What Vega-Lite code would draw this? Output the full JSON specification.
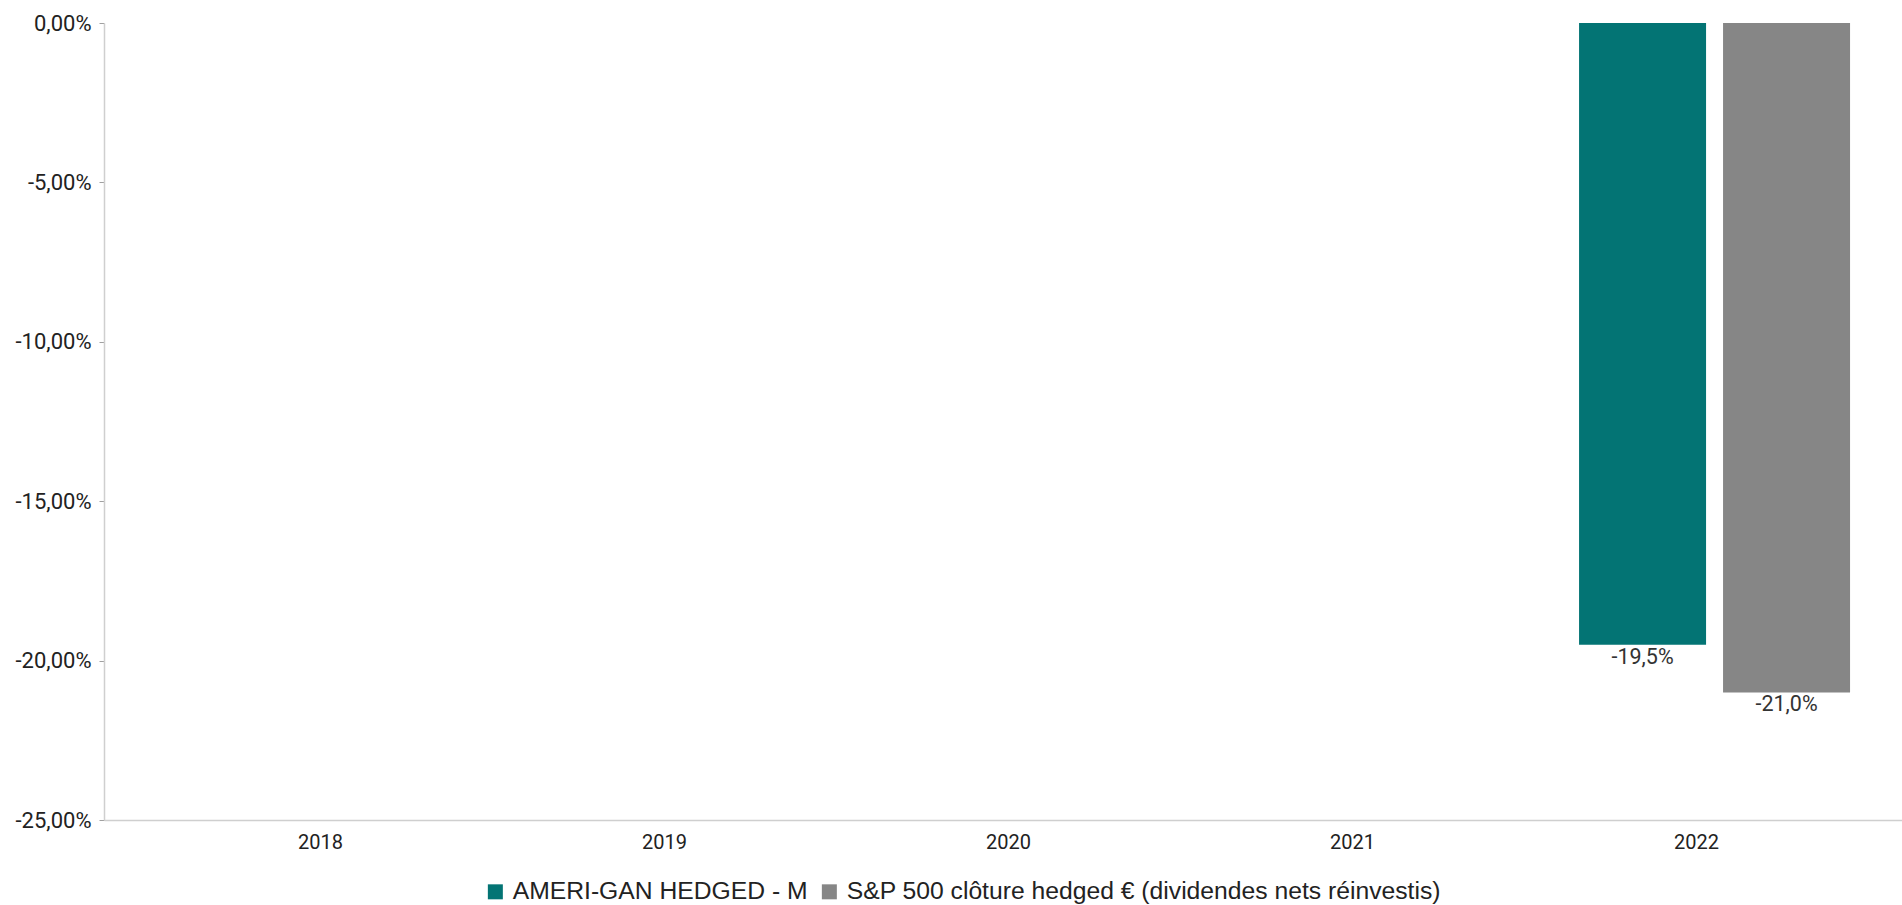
{
  "$schema": "https://vega.github.io/schema/vega-lite/v6.json",
  "autosize": {"type": "none"},
  "width": 1798,
  "height": 797,
  "padding": {"left": 104, "top": 23, "right": 0, "bottom": 85},
  "background": "white",
  "config": {
    "view": {"stroke": null},
    "locale": {"number": {"decimal": ",", "thousands": " ", "grouping": [3], "currency": ["", " €"], "minus": "-"}},
    "font": "Roboto"
  },
  "data": {"values": [
    {"year": "2022", "series": "AMERI-GAN HEDGED - M", "value": -0.195},
    {"year": "2022", "series": "S&P 500 clôture hedged € (dividendes nets réinvestis)", "value": -0.21}
  ]},
  "encoding": {
    "x": {
      "field": "year", "type": "nominal",
      "scale": {"domain": ["2018", "2019", "2020", "2021", "2022"], "paddingInner": 0.2122, "paddingOuter": 0.2195, "align": 0.656},
      "axis": {
        "title": null, "labelAngle": 0, "ticks": false, "labelPadding": 12, "labelOffset": -18,
        "labelFont": "Roboto", "labelFontSize": 20, "labelColor": "#222222",
        "domainColor": "#cfcfcf", "domainWidth": 1.5, "grid": false
      }
    },
    "xOffset": {
      "field": "series", "type": "nominal",
      "scale": {"domain": ["AMERI-GAN HEDGED - M", "S&P 500 clôture hedged € (dividendes nets réinvestis)"], "paddingInner": 0.118, "paddingOuter": 0}
    }
  },
  "layer": [
    {
      "mark": {"type": "bar"},
      "encoding": {
        "y": {
          "field": "value", "type": "quantitative",
          "scale": {"domain": [-0.25, 0], "nice": false, "zero": false},
          "axis": {
            "title": null, "format": ".2%", "values": [0, -0.05, -0.1, -0.15, -0.2, -0.25],
            "grid": false, "tickSize": 5, "tickColor": "#a0a0a0", "labelPadding": 8,
            "labelFont": "Roboto", "labelFontSize": 22, "labelColor": "#222222",
            "domainColor": "#cfcfcf", "domainWidth": 1.5
          }
        },
        "color": {
          "field": "series", "type": "nominal",
          "scale": {"domain": ["AMERI-GAN HEDGED - M", "S&P 500 clôture hedged € (dividendes nets réinvestis)"], "range": ["#037474", "#868686"]},
          "legend": {
            "title": null, "orient": "none", "legendX": 379, "legendY": 856, "direction": "horizontal", "columns": 2,
            "symbolType": "square", "symbolSize": 225, "symbolStrokeWidth": 0,
            "labelFont": "Liberation Sans", "labelFontSize": 24.7, "labelColor": "#222222", "labelLimit": 1000,
            "labelOffset": 5, "columnPadding": 9, "padding": 0
          }
        }
      }
    },
    {
      "mark": {"type": "text", "baseline": "top", "dy": 2, "fontSize": 21.5, "font": "Roboto", "color": "#333333"},
      "encoding": {
        "y": {"field": "value", "type": "quantitative"},
        "text": {"field": "value", "type": "quantitative", "format": ".1%"}
      }
    },
    {
      "mark": {"type": "rule", "color": "#cfcfcf", "strokeWidth": 2},
      "encoding": {"y": {"datum": 0}}
    }
  ]
}
